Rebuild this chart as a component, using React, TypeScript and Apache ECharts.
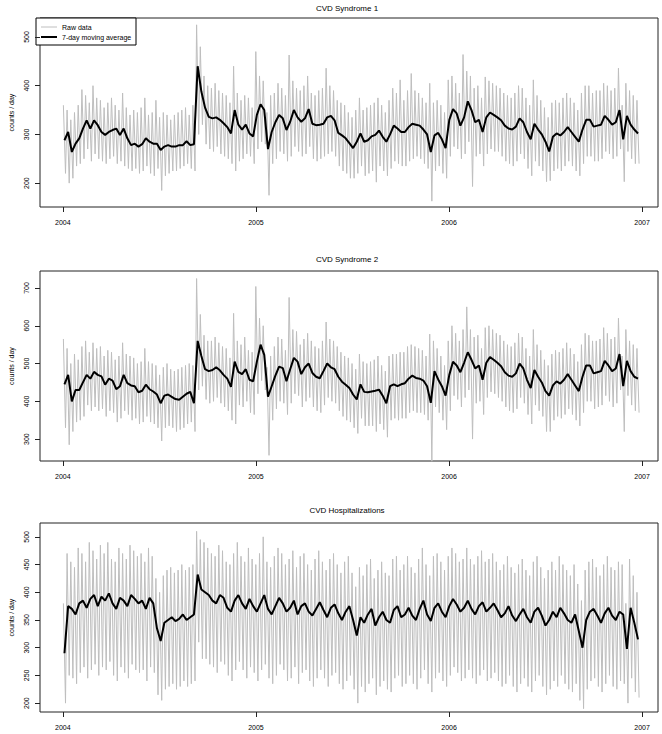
import { useEffect, useRef } from "react";
import * as echarts from "echarts";

// Weekly samples starting at the first week of 2004 (156 weeks)
const p1Ma = [
  288,305,264,281,292,312,329,312,329,319,
  305,299,305,309,312,299,312,292,278,281,
  275,280,292,285,281,281,268,275,278,275,
  275,278,278,286,278,280,440,388,355,336,
  333,335,330,323,315,302,350,320,310,320,
  302,296,340,362,350,270,305,325,340,333,
  309,326,350,335,326,333,352,322,319,320,
  322,335,338,329,303,298,292,282,272,285,
  302,285,288,296,299,308,295,285,300,318,
  312,305,305,315,322,320,318,310,300,264,
  298,303,290,272,330,352,343,318,335,368,
  350,325,330,305,335,345,340,335,329,318,
  312,310,316,333,325,305,290,322,310,300,
  285,265,295,302,298,305,315,305,295,285,
  310,330,330,316,318,320,338,330,320,325,
  350,290,338,320,310,302,
];
const p1Hi = [
  360,350,330,345,360,392,380,365,400,375,
  370,355,365,375,360,350,385,355,340,350,
  345,355,375,340,345,370,335,345,340,330,
  340,345,350,355,340,360,525,480,420,400,
  395,405,390,385,380,365,440,385,370,380,
  375,355,470,420,410,345,380,385,405,395,
  380,463,410,395,390,400,420,385,380,390,
  395,436,400,390,370,365,360,345,335,350,
  375,350,355,360,365,375,360,345,370,395,
  385,412,370,390,425,390,385,375,365,405,
  365,370,360,345,412,420,405,385,464,430,
  420,395,400,375,418,410,405,400,395,385,
  380,375,385,400,395,375,360,412,380,370,
  355,335,365,370,365,375,385,375,365,350,
  385,400,400,385,390,390,405,400,390,395,
  436,360,405,390,380,370,
];
const p1Lo = [
  220,200,210,235,240,250,270,245,260,250,
  245,240,250,255,240,245,235,230,225,230,
  220,225,235,220,215,230,185,215,220,225,
  225,230,235,240,230,225,300,320,280,270,
  265,275,260,255,250,240,225,245,250,260,
  255,240,270,285,280,175,240,250,265,260,
  245,255,275,265,255,260,275,250,245,250,
  255,260,265,255,235,225,220,210,210,220,
  235,215,220,225,202,235,225,215,230,245,
  240,235,235,245,250,255,250,240,230,163,
  225,235,220,210,255,275,270,250,260,285,
  193,255,260,235,260,270,265,265,255,245,
  240,235,245,260,250,230,215,245,235,225,
  203,205,225,230,225,235,245,235,225,215,
  240,255,255,245,245,250,265,260,250,255,
  270,203,265,250,240,240,
];

const p2Ma = [
  445,470,400,430,430,450,470,460,478,470,
  466,444,460,455,432,440,470,448,442,440,
  424,428,444,432,426,418,395,415,418,412,
  406,404,412,420,425,395,560,520,485,480,
  483,490,482,470,460,438,505,478,472,485,
  457,453,505,550,523,412,440,468,492,488,
  453,485,515,505,472,490,500,475,465,461,
  480,500,490,485,465,452,444,435,418,405,
  445,425,424,426,428,431,415,395,440,445,
  440,445,448,460,468,462,460,455,440,396,
  480,458,440,415,470,505,495,477,502,530,
  510,487,495,457,502,517,510,502,493,477,
  468,465,474,500,487,457,435,483,465,450,
  427,415,442,453,447,457,472,457,442,427,
  465,495,495,474,477,480,507,495,480,487,
  525,440,507,480,465,460,
];
const p2Hi = [
  565,540,500,525,510,545,560,530,555,540,
  545,520,535,530,510,520,555,525,520,515,
  500,505,540,505,500,495,470,490,500,485,
  480,485,490,495,500,495,725,630,575,560,
  560,570,555,545,540,515,633,560,550,570,
  535,530,704,620,600,490,520,545,570,565,
  535,675,590,585,550,565,580,560,545,540,
  560,610,565,560,545,530,520,515,500,485,
  525,505,500,505,510,520,495,480,520,525,
  525,530,530,545,550,545,540,535,520,578,
  560,540,520,495,560,600,580,560,590,650,
  590,570,575,540,595,600,590,580,575,560,
  550,545,555,580,570,540,520,590,550,535,
  510,495,525,535,530,540,555,540,525,505,
  550,580,575,560,560,565,595,580,565,570,
  620,520,590,560,550,540,
];
const p2Lo = [
  330,285,320,345,350,360,390,375,385,375,
  380,360,375,370,345,355,375,365,350,355,
  340,345,360,345,340,330,295,330,335,330,
  320,325,330,340,345,320,430,440,405,395,
  400,410,395,385,375,350,340,390,385,400,
  370,365,420,455,430,257,350,380,400,395,
  365,395,420,415,385,400,410,385,375,370,
  390,410,400,395,375,360,350,345,330,315,
  355,335,335,335,320,340,325,305,350,355,
  350,355,355,370,375,370,370,365,350,241,
  385,370,350,325,375,415,405,385,410,430,
  300,395,400,365,410,425,420,410,400,385,
  375,370,380,410,395,365,340,390,375,360,
  320,320,350,360,355,365,380,365,350,335,
  370,400,400,380,385,390,415,400,385,395,
  430,320,415,390,375,370,
];

const p3Ma = [
  290,375,370,360,380,385,372,388,395,375,
  392,385,398,380,370,390,385,375,395,388,
  380,385,370,390,380,335,312,345,350,355,
  348,352,360,350,355,360,432,405,400,395,
  385,380,395,390,372,365,385,395,380,370,
  388,375,365,380,395,370,360,375,390,380,
  365,372,385,360,375,380,365,358,370,382,
  368,355,372,378,362,350,365,375,350,322,
  355,345,360,370,340,355,365,350,345,368,
  375,355,360,372,358,350,370,385,360,348,
  372,380,365,355,375,388,378,365,372,385,
  370,360,375,382,365,372,380,368,355,362,
  375,358,348,360,370,355,345,365,372,358,
  340,350,365,355,372,362,350,345,360,330,
  300,350,365,370,358,345,362,372,358,350,
  365,360,298,372,345,315,
];
const p3Hi = [
  380,470,455,445,480,470,455,490,475,460,
  485,470,490,460,455,480,470,460,485,475,
  465,470,455,480,465,425,400,430,440,445,
  435,440,450,440,445,450,510,495,490,480,
  470,465,485,475,455,450,470,490,465,455,
  480,460,450,470,500,455,445,465,480,470,
  450,460,475,445,465,470,450,440,460,475,
  455,440,460,470,450,435,455,465,435,410,
  445,430,450,460,425,440,455,435,430,460,
  465,440,450,465,445,435,460,480,450,430,
  465,470,455,440,465,480,470,455,460,480,
  460,450,465,475,455,460,470,455,440,450,
  465,445,435,450,460,440,430,455,465,445,
  425,440,455,440,465,450,440,430,450,415,
  385,440,455,460,445,430,450,465,445,440,
  455,450,380,460,430,400,
];
const p3Lo = [
  200,250,245,235,255,265,245,260,270,250,
  265,260,275,250,240,265,255,245,270,260,
  255,260,240,265,255,215,205,225,230,235,
  225,230,240,230,235,240,310,280,280,270,
  265,255,275,270,250,240,260,275,260,245,
  265,255,240,260,270,245,235,250,270,260,
  240,245,265,235,255,260,240,230,245,260,
  245,230,250,255,235,225,240,250,225,200,
  230,220,235,245,215,230,240,225,220,245,
  250,230,235,250,235,225,245,260,235,220,
  245,255,240,230,250,265,255,240,245,260,
  245,235,250,260,240,245,255,240,230,235,
  250,230,220,235,245,230,220,240,250,230,
  215,225,240,230,250,235,225,220,235,205,
  190,225,240,245,230,220,235,250,230,225,
  240,235,200,245,220,210,
];

const titles = ["CVD Syndrome 1", "CVD Syndrome 2", "CVD Hospitalizations"];
const xTicks = [2004, 2005, 2006, 2007];
const yTicks1 = [200, 300, 400, 500];
const yTicks2 = [300, 400, 500, 600, 700];
const yTicks3 = [200, 250, 300, 350, 400, 450, 500];
const yRanges = [
  [151, 539],
  [242, 745],
  [184, 525],
];
const rawName = "Raw data";
const maName = "7-day moving average";
const RAW_COLOR = "#bebebe";

function dayToYear(day: number) {
  return 2004 + day / 365.25;
}
function maPoints(ma: number[]) {
  return ma.map((v, w) => [dayToYear(7 * w + 3), v]);
}
function rawPoints(hi: number[], lo: number[]) {
  const pts: number[][] = [];
  hi.forEach((h, w) => {
    pts.push([dayToYear(7 * w + 1), h]);
    pts.push([dayToYear(7 * w + 5), lo[w]]);
  });
  return pts;
}

const FONT = "Liberation Sans";

export default function App() {
  const ref = useRef<HTMLDivElement>(null);
  useEffect(() => {
    if (!ref.current) return;
    const chart = echarts.init(ref.current, undefined, { renderer: "svg" });
    const grids = [
      { left: 36, top: 18, width: 622, height: 189 },
      { left: 36, top: 271, width: 622, height: 190 },
      { left: 36, top: 523, width: 622, height: 189 },
    ];
    const titleY = [8, 259, 510];
    const yTicks = [yTicks1, yTicks2, yTicks3];
    const his = [p1Hi, p2Hi, p3Hi];
    const los = [p1Lo, p2Lo, p3Lo];
    const mas = [p1Ma, p2Ma, p3Ma];

    const legendGraphic = {
      type: "group",
      x: 36,
      y: 18,
      z: 100,
      children: [
        {
          type: "rect",
          shape: { x: 0, y: 0, width: 100, height: 27 },
          style: { fill: "#fff", stroke: "#000", lineWidth: 1 },
        },
        {
          type: "line",
          shape: { x1: 5, y1: 9, x2: 21, y2: 9 },
          style: { stroke: RAW_COLOR, lineWidth: 1 },
        },
        {
          type: "line",
          shape: { x1: 5, y1: 19, x2: 21, y2: 19 },
          style: { stroke: "#000", lineWidth: 2 },
        },
        {
          type: "text",
          x: 26,
          y: 9,
          style: { text: rawName, fontSize: 7, fontFamily: FONT, fill: "#000", verticalAlign: "middle" },
        },
        {
          type: "text",
          x: 26,
          y: 19,
          style: { text: maName, fontSize: 7, fontFamily: FONT, fill: "#000", verticalAlign: "middle" },
        },
      ],
    };

    const option: any = {
      animation: false,
      textStyle: { fontFamily: FONT },
      grid: grids.map((g) => ({
        ...g,
        show: true,
        borderColor: "#222",
        borderWidth: 1,
        backgroundColor: "transparent",
        containLabel: false,
      })),
      xAxis: grids.map((_, i) => ({
        type: "value",
        gridIndex: i,
        min: 2003.8816,
        max: 2007.0823,
        axisLine: { show: false },
        splitLine: { show: false },
        axisTick: {
          show: true,
          customValues: xTicks,
          length: 5,
          lineStyle: { color: "#222" },
        },
        axisLabel: {
          customValues: xTicks,
          formatter: (v: number) => String(Math.round(v)),
          fontSize: 7,
          color: "#000",
          margin: 12,
          fontFamily: FONT,
        },
      })),
      yAxis: grids.map((_, i) => ({
        type: "value",
        gridIndex: i,
        min: yRanges[i][0],
        max: yRanges[i][1],
        axisLine: { show: false },
        splitLine: { show: false },
        axisTick: {
          show: true,
          customValues: yTicks[i],
          length: 5,
          lineStyle: { color: "#222" },
        },
        axisLabel: {
          customValues: yTicks[i],
          rotate: 90,
          fontSize: 7,
          color: "#000",
          margin: 10,
          fontFamily: FONT,
        },
        name: "counts / day",
        nameLocation: "middle",
        nameGap: 25,
        nameTextStyle: { fontSize: 7, color: "#000", fontFamily: FONT },
      })),
      graphic: [
        ...titles.map((t, i) => ({
          type: "text",
          x: 347,
          y: titleY[i],
          style: {
            text: t,
            align: "center",
            verticalAlign: "middle",
            fontSize: 8,
            fontFamily: FONT,
            fill: "#000",
          },
        })),
        legendGraphic,
      ],
      series: grids.flatMap((_, i) => [
        {
          type: "line",
          name: rawName,
          xAxisIndex: i,
          yAxisIndex: i,
          data: rawPoints(his[i], los[i]),
          symbol: "none",
          lineStyle: { color: RAW_COLOR, width: 1 },
          itemStyle: { color: RAW_COLOR },
          z: 2,
        },
        {
          type: "line",
          name: maName,
          xAxisIndex: i,
          yAxisIndex: i,
          data: maPoints(mas[i]),
          symbol: "none",
          lineStyle: { color: "#000", width: 2 },
          itemStyle: { color: "#000" },
          z: 3,
        },
      ]),
    };
    chart.setOption(option);
    return () => chart.dispose();
  }, []);
  return (
    <div
      ref={ref}
      style={{ position: "absolute", left: 0, top: 0, width: 662, height: 734 }}
    />
  );
}
